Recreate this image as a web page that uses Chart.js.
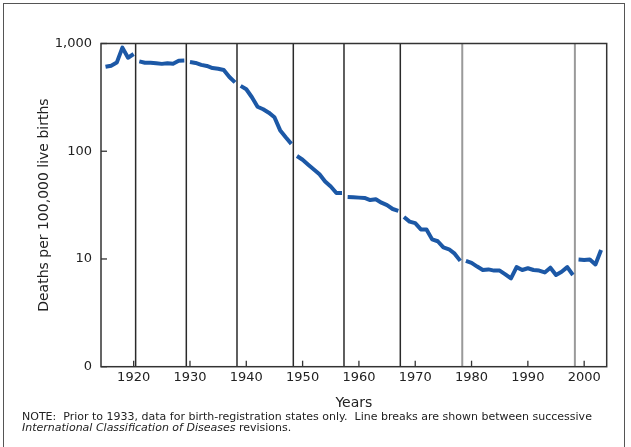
<!DOCTYPE html>
<html>
<head>
<meta charset="utf-8">
<script src="https://cdn.jsdelivr.net/npm/chart.js@4"></script>
<style>
  html, body { margin: 0; padding: 0; background: #fff; width: 631px; height: 447px; overflow: hidden; }
  #frame { position: absolute; left: 3px; top: 3px; width: 622px; height: 470px; border: 1.5px solid #555; box-sizing: border-box; }
  #c { position: absolute; left: 0; top: 0; }
  #note { position: absolute; left: 22px; top: 411px; font-family: "DejaVu Sans", sans-serif; font-size: 11px; line-height: 11px; color: #222; white-space: pre; }
</style>
</head>
<body>
<div id="frame"></div>
<canvas id="c" width="631" height="447"></canvas>
<div id="note">NOTE:  Prior to 1933, data for birth-registration states only.  Line breaks are shown between successive
<i>International Classification of Diseases</i> revisions.</div>
<script>
// Maternal mortality, deaths per 100,000 live births
const years = [1915,1916,1917,1918,1919,1920,
  1921,1922,1923,1924,1925,1926,1927,1928,1929,
  1930,1931,1932,1933,1934,1935,1936,1937,1938,
  1939,1940,1941,1942,1943,1944,1945,1946,1947,1948,
  1949,1950,1951,1952,1953,1954,1955,1956,1957,
  1958,1959,1960,1961,1962,1963,1964,1965,1966,1967,
  1968,1969,1970,1971,1972,1973,1974,1975,1976,1977,1978,
  1979,1980,1981,1982,1983,1984,1985,1986,1987,1988,1989,1990,1991,1992,1993,1994,1995,1996,1997,1998,
  1999,2000,2001,2002,2003];
const rates = [608,622,665,916,737,799,
  682,663,664,657,647,656,650,692,695,
  673,660,633,619,591,582,568,489,436,
  404,376,317,259,245,228,207,157,135,117,
  90.3,83.3,75.0,67.8,61.1,52.4,47.0,40.9,41.0,
  37.6,37.4,37.1,36.9,35.2,35.8,33.3,31.6,29.1,28.0,
  24.5,22.2,21.5,18.8,18.8,15.2,14.6,12.8,12.3,11.2,9.6,
  9.6,9.2,8.5,7.9,8.0,7.8,7.8,7.2,6.6,8.4,7.9,8.2,7.9,7.8,7.5,8.3,7.1,7.6,8.4,7.1,
  9.9,9.8,9.9,8.9,12.1];
// last year of each ICD revision period (line breaks)
const breakYears = [1920,1929,1938,1948,1957,1967,1978,1998];
const breakColors = ['#2a2a2a','#2a2a2a','#2a2a2a','#2a2a2a','#2a2a2a','#2a2a2a','#9a9a9a','#9a9a9a'];
const xTickValues = [1920,1930,1940,1950,1960,1970,1980,1990,2000];
const yTickValues = [1,10,100,1000];
const yTickLabels = ['0','10','100','1,000'];

const points = [];
years.forEach((yr, i) => {
  points.push({x: yr, y: rates[i]});
  if (breakYears.includes(yr)) points.push({x: yr + 0.5, y: null});
});

const separators = {
  id: 'separators',
  beforeDatasetsDraw(chart) {
    const {ctx, chartArea: a, scales: {x}} = chart;
    ctx.save();
    breakYears.forEach((b, i) => {
      const px = x.getPixelForValue(b + 0.35);
      ctx.strokeStyle = breakColors[i];
      ctx.lineWidth = i >= 6 ? 2 : 1.5;
      ctx.beginPath(); ctx.moveTo(px, a.top); ctx.lineTo(px, a.bottom); ctx.stroke();
    });
    ctx.restore();
  }
};
const frameTicks = {
  id: 'frameTicks',
  afterDraw(chart) {
    const {ctx, chartArea: a, scales: {x, y}} = chart;
    ctx.save();
    ctx.strokeStyle = '#333';
    ctx.lineWidth = 1.3;
    xTickValues.forEach(v => {
      const px = x.getPixelForValue(v);
      ctx.beginPath(); ctx.moveTo(px, a.bottom); ctx.lineTo(px, a.bottom - 6); ctx.stroke();
    });
    yTickValues.forEach(v => {
      const py = y.getPixelForValue(v);
      ctx.beginPath(); ctx.moveTo(a.left, py); ctx.lineTo(a.left + 6, py); ctx.stroke();
    });
    ctx.lineWidth = 1.5;
    ctx.strokeRect(a.left, a.top, a.right - a.left, a.bottom - a.top);
    ctx.restore();
  }
};

new Chart(document.getElementById('c'), {
  type: 'line',
  data: { datasets: [{
    data: points, borderColor: '#1c58a6', borderWidth: 4, pointRadius: 0,
    tension: 0, spanGaps: false, borderJoinStyle: 'round', borderCapStyle: 'butt', fill: false
  }]},
  options: {
    responsive: false, animation: false, devicePixelRatio: 1,
    layout: { padding: { left: 0, top: 43.5, right: 24.3, bottom: 35.3 } },
    plugins: { legend: { display: false }, tooltip: { enabled: false } },
    scales: {
      x: {
        type: 'linear', min: 1914.2, max: 2004,
        grid: { display: false, drawTicks: false }, border: { display: false },
        afterBuildTicks: s => { s.ticks = xTickValues.map(v => ({value: v})); },
        afterFit: s => { s.height = 45; },
        ticks: { padding: 3, color: '#222', autoSkip: false, maxRotation: 0,
          font: { family: 'DejaVu Sans', size: 13 }, callback: v => String(v) },
        title: { display: true, text: 'Years', color: '#222',
          font: { family: 'DejaVu Sans', size: 14 }, padding: { top: 0, bottom: 0 } }
      },
      y: {
        type: 'logarithmic', min: 1, max: 1000,
        grid: { display: false, drawTicks: false }, border: { display: false },
        afterBuildTicks: s => { s.ticks = yTickValues.map(v => ({value: v})); },
        afterFit: s => { s.width = 101; },
        ticks: { padding: 9, color: '#222', autoSkip: false,
          font: { family: 'DejaVu Sans', size: 13 }, callback: (v, i) => yTickLabels[i] },
        title: { display: true, text: 'Deaths per 100,000 live births', color: '#222',
          font: { family: 'DejaVu Sans', size: 14 }, padding: { top: 35.6, bottom: 0 } }
      }
    }
  },
  plugins: [separators, frameTicks]
});
</script>
</body>
</html>
